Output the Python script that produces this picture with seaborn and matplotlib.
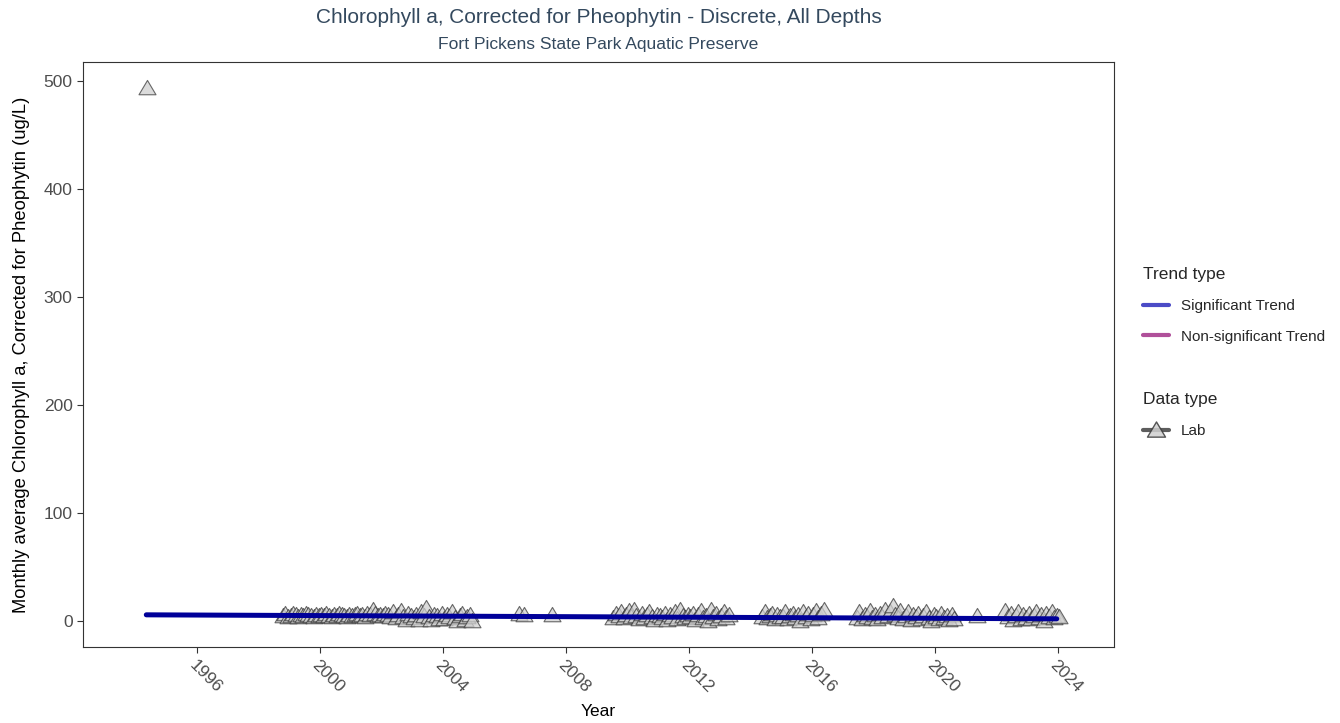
import pandas as pd
import seaborn as sns
import matplotlib.pyplot as plt
from matplotlib.lines import Line2D
from matplotlib.path import Path
from matplotlib.markers import MarkerStyle

# Monthly averages, lab data (ug/L). One list per run of months.
first_point = ("1994-05", [494])
seg_1998 = ("1998-10", [5, 7, 4,
                        5, 7, 6, 4, 6, 5, 7, 6, 5, 4, 6, 5,
                        6, 5, 7, 5, 4, 6, 5, 7, 6, 5, 4, 6,
                        5, 6, 7, 5, 6, 4, 7, 6, 10, 7, 5, 6,
                        5, 7, 6, 4, 8, 3, 6, 9, 4, 1, 7, 5,
                        3, 6, 1, 8, 5, 12, 4, 1, 6, 5, 2, 7,
                        2, 6, 4, 8, 3, 0, 5, 7, 1, 4, 6, 0])
seg_2006a = ("2006-06", [7])
seg_2006b = ("2006-08", [6])
seg_2007 = ("2007-07", [6])
seg_2009 = ("2009-07", [3, 7, 5, 8, 3, 6,
                        9, 4, 10, 5, 2, 7, 3, 6, 8, 4, 1, 6,
                        5, 3, 7, 1, 6, 4, 8, 2, 10, 5, 3, 6,
                        4, 7, 1, 6, 9, 3, 5, 0, 10, 4, 7, 2,
                        5, 8, 3, 6])
seg_2014 = ("2014-05", [4, 8, 3, 5, 7, 2, 6, 4,
                        4, 8, 2, 5, 7, 3, 6, 0, 8, 4, 7, 2,
                        6, 9, 3, 7, 10])
seg_2017 = ("2017-06", [3, 8, 2, 6, 4, 9, 3,
                        6, 2, 7, 4, 10, 5, 8, 14, 6, 3, 9, 2,
                        5, 8, 1, 6, 4, 7, 2, 5, 8, 3, 0, 6,
                        4, 2, 7, 3, 5, 1, 6, 2])
seg_2021 = ("2021-05", [5])
seg_2022 = ("2022-04", [9, 4, 7, 1, 5, 8, 2, 6, 3,
                        7, 2, 5, 8, 3, 6, 0, 7, 4, 8, 3, 5,
                        4])

# Seasonal Kendall trend line (start / end)
trend_years = [1994.35, 2023.96]
trend_values = [5.8, 2.1]

x_ticks = [1996, 2000, 2004, 2008, 2012, 2016, 2020, 2024]
y_ticks = [0, 100, 200, 300, 400, 500]

title = "Chlorophyll a, Corrected for Pheophytin - Discrete, All Depths"
subtitle = "Fort Pickens State Park Aquatic Preserve"
y_label = "Monthly average Chlorophyll a, Corrected for Pheophytin (ug/L)"

rows = []
for start, vals in [first_point, seg_1998, seg_2006a, seg_2006b, seg_2007,
                    seg_2009, seg_2014, seg_2017, seg_2021, seg_2022]:
    months = pd.period_range(start, periods=len(vals), freq="M")
    for m, v in zip(months, vals):
        rows.append({"year": m.year + (m.month - 0.5) / 12, "value": v})
df = pd.DataFrame(rows)
trend = pd.DataFrame({"year": trend_years, "value": trend_values})

sns.set_style("ticks")
plt.rcParams["font.family"] = ["Liberation Sans", "DejaVu Sans"]

fig = plt.figure(figsize=(13.4, 7.23), dpi=100)
ax = fig.add_axes([0.0619, 0.1051, 0.7694, 0.8091])

# ggplot-like open triangle (shape 24)
tri = MarkerStyle(Path([(0, 0.9), (-0.95, -0.7), (0.95, -0.7), (0, 0.9)],
                       [Path.MOVETO, Path.LINETO, Path.LINETO, Path.CLOSEPOLY]))
sns.scatterplot(data=df, x="year", y="value", marker=tri, s=150,
                color="#cfcfcf", edgecolor="#3a3a3a", linewidth=0.8,
                alpha=0.75, ax=ax, zorder=2)
sns.lineplot(data=trend, x="year", y="value", color="#000099",
             linewidth=3.6, ax=ax, zorder=3)

ax.set_xlim(1992.29, 2025.82)
ax.set_ylim(-24, 517.6)
ax.set_xticks(x_ticks)
ax.set_yticks(y_ticks)
ax.set_xticklabels([str(t) for t in x_ticks], rotation=-45, ha="left",
                   va="top", rotation_mode="anchor")
for sp in ax.spines.values():
    sp.set_visible(True)
    sp.set_color("#333333")
    sp.set_linewidth(0.8)
ax.tick_params(length=4, width=0.8, color="#333333", labelcolor="#4d4d4d",
               labelsize=12.5)
ax.set_xlabel("Year", fontsize=12.5, color="black", labelpad=6)
ax.set_ylabel(y_label, fontsize=13.2, color="black", labelpad=10)

fig.text(0.4466, 0.9755, title, ha="center", va="center", fontsize=15,
         color="#34495e")
fig.text(0.4466, 0.938, subtitle, ha="center", va="center", fontsize=12.6,
         color="#34495e")

trend_handles = [Line2D([0], [0], color="#4b4bc6", lw=3),
                 Line2D([0], [0], color="#b0509a", lw=3)]
leg1 = ax.legend(trend_handles, ["Significant Trend", "Non-significant Trend"],
                 title="Trend type", loc="upper left",
                 bbox_to_anchor=(0.8470, 0.641), bbox_transform=fig.transFigure,
                 frameon=False, fontsize=11, title_fontsize=12.5,
                 handlelength=1.7, handletextpad=0.8, labelspacing=1.1,
                 borderpad=0, alignment="left")
ax.add_artist(leg1)
lab_handle = Line2D([0], [0], color="#404040", lw=3, marker=tri,
                    markersize=13, markerfacecolor="#cfcfcf",
                    markeredgecolor="#3a3a3a", alpha=0.85)
ax.legend([lab_handle], ["Lab"], title="Data type", loc="upper left",
          bbox_to_anchor=(0.8470, 0.468), bbox_transform=fig.transFigure,
          frameon=False, fontsize=11, title_fontsize=12.5,
          handlelength=1.7, handletextpad=0.8, labelspacing=1.1,
          borderpad=0, alignment="left")

fig.savefig("out.png", dpi=100)
